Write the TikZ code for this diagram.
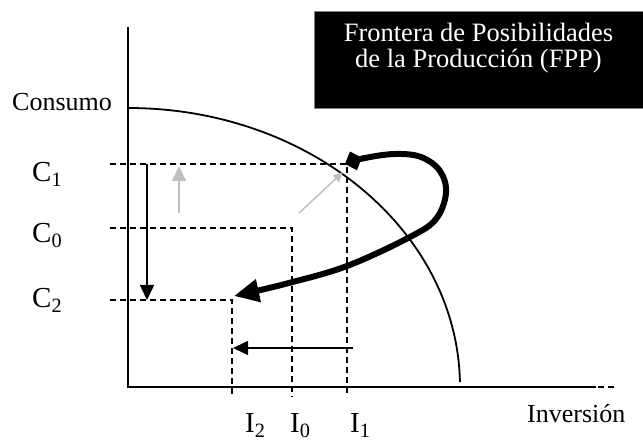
\documentclass[tikz,border=0pt]{standalone}
\usepackage{fontspec}
\setmainfont{Liberation Serif}
\usetikzlibrary{arrows.meta}
\definecolor{hintgray}{RGB}{192,192,192}
\begin{document}
\begin{tikzpicture}[x=1pt,y=-1pt,
  axis/.style={line width=1.6pt},
  guide/.style={line width=1.4pt, dash pattern=on 6pt off 4pt},
  frontier/.style={line width=1.8pt},
  move/.style={line width=1.6pt,-{Triangle[length=15pt,width=14pt]}},
  hint/.style={line width=1.8pt,draw=hintgray,-{Triangle[length=15pt,width=14pt,fill=hintgray]}},
  hintsmall/.style={line width=1.5pt,draw=hintgray,-{Triangle[length=10pt,width=9pt,fill=hintgray]}},
  trajectory/.style={line width=6pt,{Diamond[length=18pt,width=20pt]}-{Triangle[length=25pt,width=22pt]}},
  lab/.style={font=\fontsize{29}{29}\selectfont, anchor=base west, inner sep=0pt},
  txt/.style={font=\fontsize{26}{26}\selectfont, anchor=base west, inner sep=0pt},
  boxtxt/.style={font=\fontsize{26.5}{27}\selectfont, text=white, anchor=base, inner sep=0pt}]
\useasboundingbox (0,0) rectangle (643,443);

% title box
\node[fill=black, draw=gray, line width=0.6pt, minimum width=329pt, minimum height=97pt, anchor=north west, inner sep=0pt] (fpp) at (314,11) {};
\node[boxtxt] (fpp1) at (478.5,42) {Frontera de Posibilidades};
\node[boxtxt] (fpp2) at (478.5,68) {de la Producción (FPP)};

% guide lines
\draw[guide] (110,164) -- (347,164) -- (347,397);
\draw[guide] (110,228) -- (292,228) -- (292,397);
\draw[guide] (110,300) -- (232,300) -- (232,397);

% axes
\coordinate (o) at (128,387);
\coordinate (ytop) at (128,27);
\coordinate (xend) at (614,387);
\coordinate (xsolid) at (596,387);
\draw[guide] (o) -- (xend);
\draw[axis] (ytop) -- (o) -- (xsolid);

% frontier
\draw[frontier] (128,108) arc[start angle=-90, end angle=-1, x radius=332, y radius=279];

% labels
\node[txt] (cons) at (12,111) {Consumo};
\node[txt] (inv) at (527,423) {Inversión};
\node[lab] (c1) at (32,182) {C\textsubscript{1}};
\node[lab] (c0) at (32,243) {C\textsubscript{0}};
\node[lab] (c2) at (32,308) {C\textsubscript{2}};
\node[lab] (i2) at (245,433) {I\textsubscript{2}};
\node[lab] (i0) at (290,433) {I\textsubscript{0}};
\node[lab] (i1) at (350,433) {I\textsubscript{1}};

% arrows
\coordinate (dA) at (147,164);
\coordinate (dB) at (147,300);
\draw[move] (dA) -- (dB);
\coordinate (lA) at (353,348);
\coordinate (lB) at (233,348);
\draw[move] (lA) -- (lB);
\coordinate (uA) at (179,213);
\coordinate (uB) at (179,166);
\draw[hint] (uA) -- (uB);
\coordinate (gA) at (299,213);
\coordinate (gB) at (343,172);
\draw[hintsmall] (gA) -- (gB);

% trajectory
\draw[trajectory] plot[smooth, tension=0.6] coordinates {(345,164) (365,158) (395,154) (421,157) (440,171) (446,193) (436,219) (410,237) (347,266) (285,284) (234,296)};
\end{tikzpicture}
\end{document}
